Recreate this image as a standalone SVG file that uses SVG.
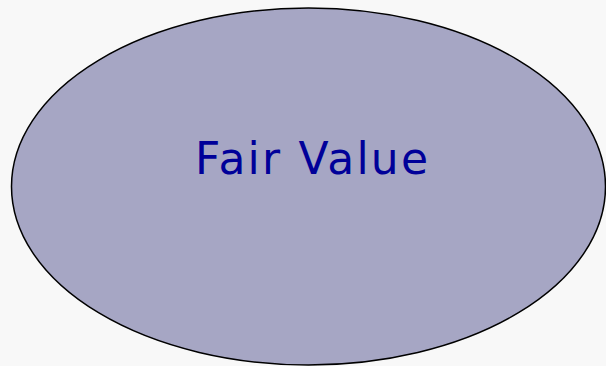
<svg xmlns="http://www.w3.org/2000/svg" width="606" height="366" viewBox="0 0 606 366">
<style>
.bg{fill:#f8f8f8}
.node{fill:#a6a6c4;stroke:#000;stroke-width:1.5}
.label{font-family:"DejaVu Sans",Verdana,sans-serif;font-size:44px;fill:#000099;text-anchor:middle}
</style>
<rect class="bg" x="0" y="0" width="606" height="366"/>
<g id="fair-value">
<ellipse class="node" cx="308.5" cy="186.5" rx="297" ry="178.5"/>
<text class="label" x="311.5" y="174" textLength="233" lengthAdjust="spacing">Fair Value</text>
</g>
<g id="connectors"/>
</svg>
